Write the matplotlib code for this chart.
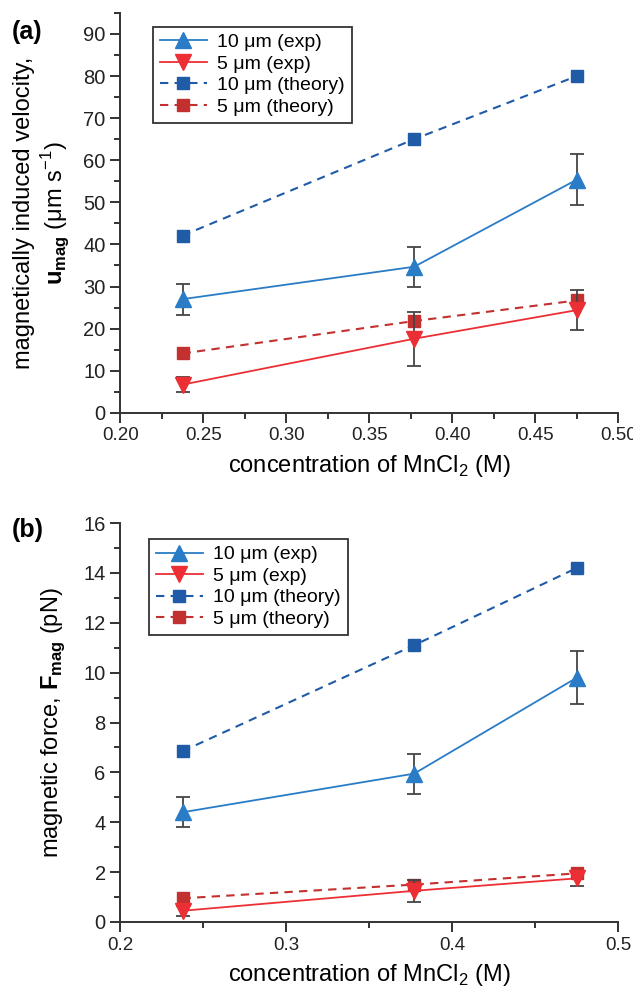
import numpy as np
import matplotlib
matplotlib.use("Agg")
import matplotlib.pyplot as plt
from matplotlib.ticker import MultipleLocator
from matplotlib.lines import Line2D

plt.rcParams['font.family'] = ['Liberation Sans', 'DejaVu Sans']
plt.rcParams['mathtext.fontset'] = 'custom'
plt.rcParams['mathtext.rm'] = 'Liberation Sans'
plt.rcParams['mathtext.bf'] = 'Liberation Sans:bold'

conc = [0.2375, 0.377, 0.475]

# (a) velocity, um/s
u10_exp = [27.0, 34.7, 55.4]
u10_err = [3.7, 4.7, 6.1]
u5_exp = [6.7, 17.6, 24.4]
u5_err = [1.8, 6.4, 4.8]
u10_th = [42.1, 65.0, 80.0]
u5_th = [14.1, 21.8, 26.7]

# (b) force, pN
f10_exp = [4.4, 5.95, 9.8]
f10_err = [0.6, 0.8, 1.05]
f5_exp = [0.45, 1.25, 1.75]
f5_err = [0.2, 0.45, 0.3]
f10_th = [6.85, 11.1, 14.2]
f5_th = [0.95, 1.5, 1.95]

labels = ['10 \u03bcm (exp)', '5 \u03bcm (exp)', '10 \u03bcm (theory)', '5 \u03bcm (theory)']

c_blue = '#2a7cc7'
c_blue_d = '#1f5ba6'
c_red = '#ec2f35'
c_red_d = '#c2302f'
c_err = '#444444'
dash = (0, (4, 3))


def panel(ax, e10, e10err, e5, e5err, t10, t5, leg_anchor):
    ax.errorbar(conc, e10, yerr=e10err, color=c_blue, marker='^', ms=11, lw=1.3,
                ecolor=c_err, elinewidth=1.3, capsize=5, capthick=1.3, zorder=3)
    ax.errorbar(conc, e5, yerr=e5err, color=c_red, marker='v', ms=11, lw=1.3,
                ecolor=c_err, elinewidth=1.3, capsize=5, capthick=1.3, zorder=3)
    ax.plot(conc, t10, color=c_blue_d, marker='s', ms=8, lw=1.5, ls=dash)
    ax.plot(conc, t5, color=c_red_d, marker='s', ms=8, lw=1.5, ls=dash)
    ax.spines['top'].set_visible(False)
    ax.spines['right'].set_visible(False)
    for s in ['left', 'bottom']:
        ax.spines[s].set_linewidth(1.4)
        ax.spines[s].set_color('#333333')
    ax.tick_params(which='both', direction='out', width=1.3, colors='#222222')
    ax.tick_params(axis='x', labelsize=13.5)
    ax.tick_params(axis='y', labelsize=14.5)
    ax.tick_params(which='major', length=7)
    ax.tick_params(which='minor', length=4)
    handles = [
        Line2D([], [], color=c_blue, marker='^', ms=11, lw=1.3),
        Line2D([], [], color=c_red, marker='v', ms=11, lw=1.3),
        Line2D([], [], color=c_blue_d, marker='s', ms=8, lw=1.5, ls=dash),
        Line2D([], [], color=c_red_d, marker='s', ms=8, lw=1.5, ls=dash),
    ]
    leg = ax.legend(handles, labels, loc='upper left', bbox_to_anchor=leg_anchor, borderaxespad=0,
                    fontsize=14, frameon=True, fancybox=False, edgecolor='#333333',
                    handlelength=2.4, borderpad=0.35, labelspacing=0.2, handletextpad=0.55,
                    framealpha=1)
    leg.get_frame().set_linewidth(1.3)


fig = plt.figure(figsize=(6.33, 9.9), dpi=100)

ax1 = fig.add_axes([0.19, 0.583, 0.787, 0.404])
panel(ax1, u10_exp, u10_err, u5_exp, u5_err, u10_th, u5_th, (0.066, 0.965))
ax1.set_xlim(0.2, 0.5)
ax1.set_ylim(0, 95)
ax1.xaxis.set_minor_locator(MultipleLocator(0.025))
ax1.yaxis.set_minor_locator(MultipleLocator(5))
ax1.set_yticks(range(0, 91, 10))
ax1.set_xticks(np.arange(0.2, 0.501, 0.05))
ax1.set_xticklabels([f'{v:.2f}' for v in np.arange(0.2, 0.501, 0.05)])
ax1.set_xlabel('concentration of MnCl$_2$ (M)', fontsize=17, labelpad=6)
ax1.set_ylabel('magnetically induced velocity,\n$\\mathbf{u}_{\\mathbf{mag}}$ (\u03bcm s$^{-1}$)',
               fontsize=17, labelpad=8)
fig.text(0.018, 0.968, '(a)', fontsize=18, fontweight='bold', va='center')

ax2 = fig.add_axes([0.19, 0.0687, 0.787, 0.403])
panel(ax2, f10_exp, f10_err, f5_exp, f5_err, f10_th, f5_th, (0.058, 0.96))
ax2.set_xlim(0.2, 0.5)
ax2.set_ylim(0, 16)
ax2.xaxis.set_minor_locator(MultipleLocator(0.05))
ax2.yaxis.set_minor_locator(MultipleLocator(1))
ax2.set_yticks(range(0, 17, 2))
ax2.set_xticks(np.arange(0.2, 0.501, 0.1))
ax2.set_xticklabels([f'{v:.1f}' for v in np.arange(0.2, 0.501, 0.1)])
ax2.set_xlabel('concentration of MnCl$_2$ (M)', fontsize=17, labelpad=6)
ax2.set_ylabel('magnetic force, $\\mathbf{F}_{\\mathbf{mag}}$ (pN)', fontsize=17, labelpad=12)
fig.text(0.018, 0.465, '(b)', fontsize=18, fontweight='bold', va='center')

fig.savefig('out.png', dpi=100)
